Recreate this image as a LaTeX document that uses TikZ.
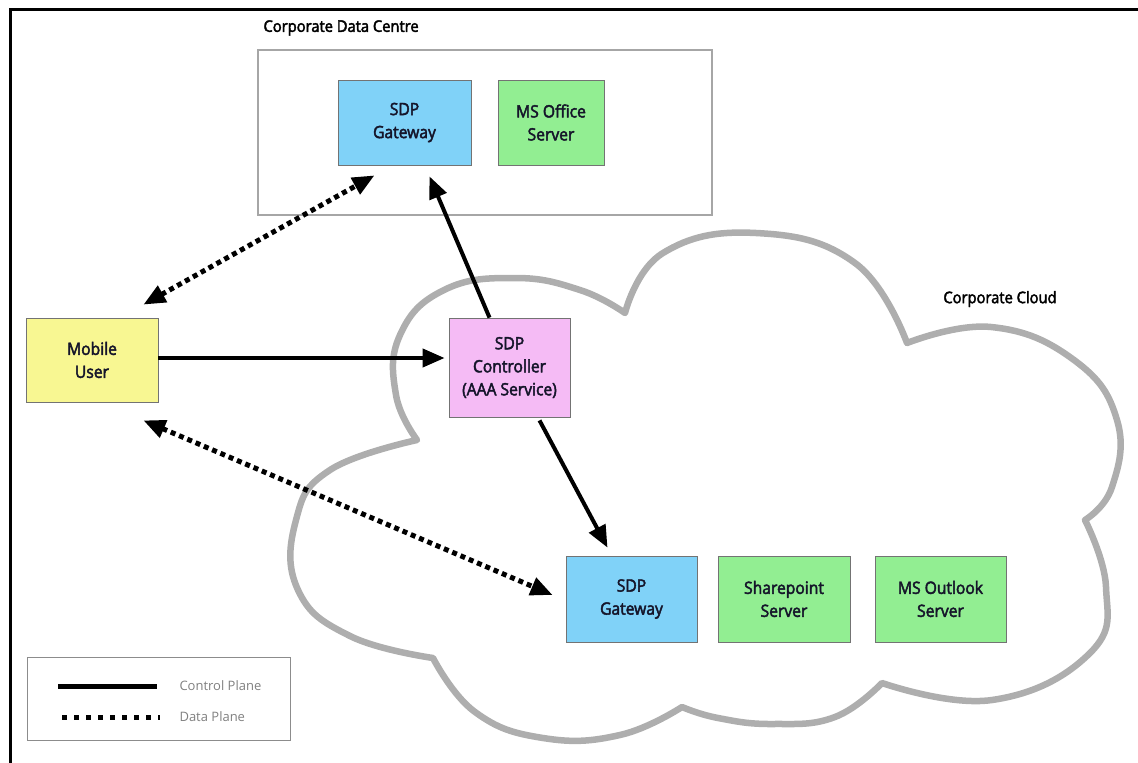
\documentclass[tikz,border=0pt]{standalone}
\usepackage{fontspec}
\setmainfont{Open Sans}
\newfontfamily\semibold{Open Sans}[FakeBold=2.6, FakeStretch=0.92]
\usetikzlibrary{arrows.meta,calc}

\definecolor{gwblue}{HTML}{80D2F8}
\definecolor{srvgreen}{HTML}{92EE92}
\definecolor{useryellow}{HTML}{F8F792}
\definecolor{ctrlpink}{HTML}{F5BBF5}
\definecolor{cloudgrey}{HTML}{AEAEAE}
\definecolor{legendgrey}{HTML}{808080}
\definecolor{textnavy}{HTML}{15152A}

\begin{document}
\begin{tikzpicture}[x=1pt, y=-1pt,
    box/.style={draw=black!55, line width=0.8pt, align=center, inner sep=0pt,
        text=textnavy, font=\semibold\fontsize{17}{23}\selectfont},
    control/.style={line width=4pt, -{Triangle[length=22pt,width=18pt]}},
    data/.style={line width=5pt, dash pattern=on 5pt off 4pt,
        {Triangle[length=22pt,width=18pt]}-{Triangle[length=22pt,width=18pt]}},
    title/.style={font=\semibold\fontsize{16}{20}\selectfont}]

\useasboundingbox (0,0) rectangle (1138,763);

% draw frame
\draw[line width=3pt] (1138,9.5) -- (10.5,9.5) -- (10.5,763);

% draw cloud
\draw[color=cloudgrey, line width=6.5pt, fill=white, line join=round]
    plot[smooth, tension=0.75] coordinates {(417,440) (396,395) (400,335) (444,290) (515,278) (580,290) (625,313)}
    -- plot[smooth, tension=0.75] coordinates {(625,313) (663,253) (756,233) (855,263) (907,343)}
    -- plot[smooth, tension=0.75] coordinates {(907,343) (991,327) (1074,360) (1117,420) (1112,487) (1085,520)}
    -- plot[smooth, tension=0.75] coordinates {(1085,520) (1106,587) (1090,653) (992,700) (882,683)}
    -- plot[smooth, tension=0.75] coordinates {(882,683) (835,717) (773,724) (718,718) (682,707)}
    -- plot[smooth, tension=0.75] coordinates {(682,707) (620,735) (543,738) (475,712) (433,658)}
    -- plot[smooth, tension=0.75] coordinates {(433,658) (350,636) (298,590) (296,520) (330,470) (417,440)}
    -- cycle;
\node[title] (cloudlabel) at (1000,299) {Corporate Cloud};

% draw data centre
\draw[color=black!35, line width=1.5pt, fill=white] (258,50) rectangle (712,215);
\node[title, anchor=west] (dclabel) at (260,28) {Corporate Data Centre};

% draw nodes
\node[box, fill=gwblue, minimum width=133pt, minimum height=85pt] (gwtop) at (404.5,122.5) {SDP\\Gateway};
\node[box, fill=srvgreen, minimum width=106pt, minimum height=85pt] (office) at (551,122.5) {MS Office\\Server};
\node[box, fill=useryellow, minimum width=132pt, minimum height=84pt] (user) at (92,360) {Mobile\\User};
\node[box, fill=ctrlpink, minimum width=121pt, minimum height=99pt] (ctrl) at (509.5,367.5) {SDP\\Controller\\(AAA Service)};
\node[box, fill=gwblue, minimum width=131pt, minimum height=86pt] (gwcloud) at (631.5,599) {SDP\\Gateway};
\node[box, fill=srvgreen, minimum width=132pt, minimum height=86pt] (share) at (784,599) {Sharepoint\\Server};
\node[box, fill=srvgreen, minimum width=131pt, minimum height=86pt] (outlook) at (940.5,599) {MS Outlook\\Server};

% draw control plane
\draw[control] (user.east |- 0,358) -- ($(ctrl.west |- 0,358)+(-4,0)$);
\draw[control] ($(ctrl.north)+(-20,0)$) -- ($(gwtop.south)+(25,11)$);
\draw[control] ($(ctrl.south)+(30,3)$) -- ($(gwcloud.north)+(-24,-8)$);

% draw data plane
\draw[data] ($(user.north east)+(-15,-13)$) -- ($(gwtop.south)+(-30,10)$);
\draw[data] ($(user.south east)+(-15,18)$) -- ($(gwcloud.west)+(-13,-4)$);

% draw legend
\draw[color=black!45, line width=1pt] (27,657) rectangle (290,740);
\draw[line width=5pt] (58,686) -- (157,686);
\draw[line width=5pt, dash pattern=on 5pt off 7pt] (62,717) -- (160,717);
\node[anchor=west, color=legendgrey, font=\fontsize{13}{16}\selectfont] (ctrllegend) at (176,686) {Control Plane};
\node[anchor=west, color=legendgrey, font=\fontsize{13}{16}\selectfont] (datalegend) at (176,717) {Data Plane};

\end{tikzpicture}
\end{document}
